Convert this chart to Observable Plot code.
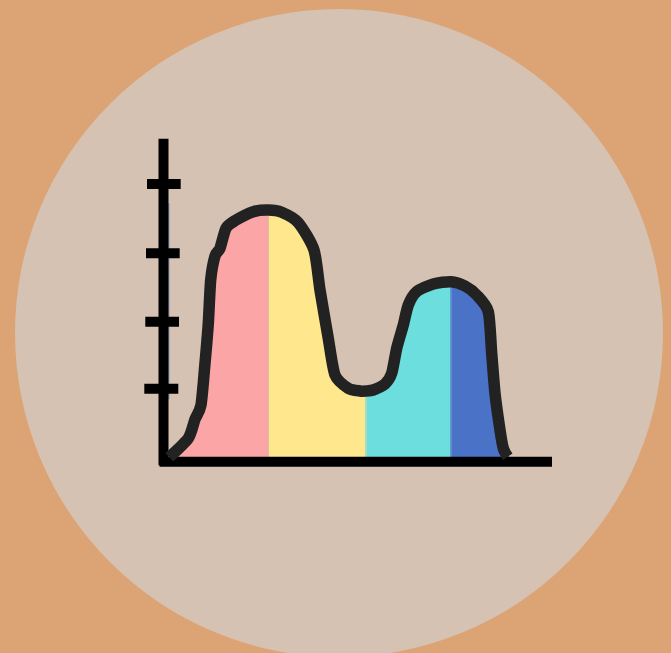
<!DOCTYPE html>
<html>
<head>
<meta charset="utf-8">
<script src="https://cdn.jsdelivr.net/npm/d3@7"></script>
<script src="https://cdn.jsdelivr.net/npm/@observablehq/plot@0.6"></script>
<style>html,body{margin:0;padding:0;background:#dca374;overflow:hidden}svg{display:block}</style>
</head>
<body>
<div id="chart"></div>
<script>
const curveX = [5.8,24.8,31.5,37.5,41.5,44.8,47.2,51.5,56.5,62.5,71.5,89.8,104.8,118.2,134.8,150.5,156.5,164.5,171.5,184.8,196.5,202.5,209.8,221.5,228.2,233.2,239.8,244.8,253.2,269.8,287.5,301.5,313.2,324.8,328.2,331.5,336.5,339.8,344.2];
const curveY = [4.4,23.4,42.4,56.7,98.4,138.4,181.7,205.7,213.4,233.4,241,250,251.7,249.4,239,211.7,171.7,125,86.7,73.4,70.7,70.7,71.7,77.7,88.4,113.4,136.7,156.7,170,177.7,180,175.7,166.7,150,108.4,68.4,31.7,13.4,5];
const bandStart = [5.8,104.8,202.5,287.5];
const bandEnd = [104.8,202.5,287.5,344.2];
const bandColors = ["#fca5a6","#ffe78e","#6bdedd","#4a72c6"];
const seamX = [104.8,202.5,287.5];
const seamTop = [251.7,70.7,180];
const seamColors = ["#e9ba9a","#b0e2b8","#5f9ed0"];
const tickValues = [72.9,140,208.4,277.7];
const tickLeft = [-18.7,-17.7,-17,-16];
const tickRight = [15.3,16,16.7,17.7];
const points = curveX.map((x,i)=>({x,y:curveY[i]}));
const ticks = tickValues.map((y,i)=>({y,x1:tickLeft[i],x2:tickRight[i]}));
const seams = seamX.map((x,i)=>({x,y2:seamTop[i],c:seamColors[i]}));
const shape = {x:"x",y:"y",curve:"cardinal",tension:0.3};
const bands = bandStart.map((a,i)=>Plot.areaY(points.filter(p=>p.x>=a&&p.x<=bandEnd[i]),{...shape,fill:bandColors[i]}));

const chart = Plot.plot({
  width:671,height:653,
  margin:0,
  x:{domain:[-163,508],range:[0,671],axis:null},
  y:{domain:[-191.8,461.2],range:[653,0],axis:null},
  style:{background:"#dca374"},
  marks:[
    Plot.dot([{x:175.5,y:128.7}],{x:"x",y:"y",r:324,fill:"#d5c2b2",stroke:"none"}),
    Plot.areaY(points,{...shape,fill:"#4a72c6",dx:2}),
    ...bands,
    Plot.ruleX(seams,{x:"x",y1:0,y2:"y2",stroke:"c",strokeWidth:1.5}),
    Plot.ruleX([0],{y1:62,y2:258,stroke:"#4a72c6",strokeWidth:10,dx:1,strokeOpacity:0.5}),
    Plot.ruleX([0],{y1:-4,y2:322.5,stroke:"#000",strokeWidth:10}),
    Plot.ruleY([0],{x1:-3.5,x2:389,stroke:"#000",strokeWidth:10}),
    Plot.ruleY(ticks,{y:"y",x1:"x1",x2:"x2",stroke:"#000",strokeWidth:10}),
    Plot.line(points,{...shape,stroke:"#222222",strokeWidth:11.5,strokeLinejoin:"round",strokeLinecap:"butt"})
  ]
});
document.getElementById("chart").append(chart);
</script>
</body>
</html>
